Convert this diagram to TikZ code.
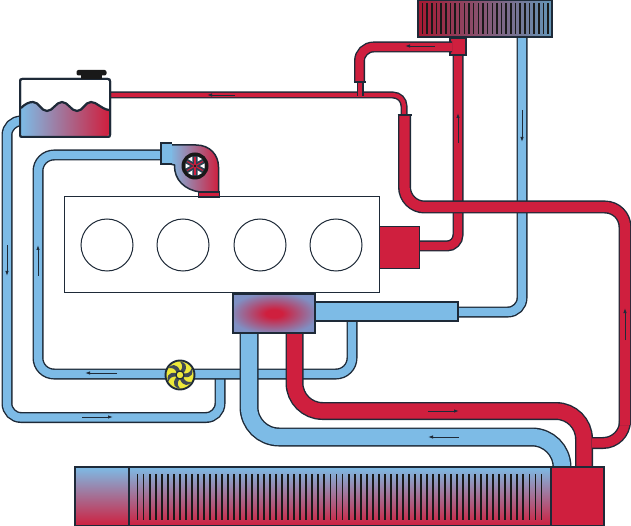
\documentclass[tikz,border=0pt]{standalone}
\usepackage{tikz}
\usetikzlibrary{arrows.meta,positioning,calc}
\definecolor{hotred}{HTML}{CF1F3E}
\definecolor{coolblue}{HTML}{7DBBE6}
\definecolor{pipeline}{HTML}{1E2A38}
\definecolor{fanyellow}{HTML}{EDE93A}
\definecolor{pumpblue}{HTML}{7F90C4}
\pgfdeclareradialshading{hotspot}{\pgfpoint{0bp}{0bp}}{color(0bp)=(hotred); color(5bp)=(hotred); color(27bp)=(pumpblue); color(100bp)=(pumpblue)}
\newcommand{\pipe}[4]{%
\draw[rounded corners=#3pt, line width=#2pt, color=pipeline] #4;
\draw[rounded corners=#3pt, line width=#2pt-2.8pt, color=#1] #4;}
\tikzset{
  box/.style={draw=pipeline, line width=1.5pt, inner sep=0pt, outer sep=0pt},
  flow/.style={-{Latex[length=5pt,width=3.5pt]}, line width=0.9pt, color=pipeline},
  fin/.style={line width=1.9pt, color=black!90},
  pipecap/.style={line width=1.4pt, color=pipeline}
}
\begin{document}
\begin{tikzpicture}[x=1pt, y=-1pt]
\useasboundingbox (0,0) rectangle (631,526);
% cold side
\pipe{coolblue}{11}{14}{(20,121) -- (7,121) -- (7,417.5) -- (220,417.5) -- (220,378)}
\pipe{coolblue}{11}{16}{(352,320) -- (352,374) -- (38,374) -- (38,155) -- (163,155)}
\pipe{coolblue}{11}{14}{(522,36) -- (522,312) -- (457,312)}
\node[box, fill=coolblue, minimum width=144pt, minimum height=19pt] (bypass) at (386,311.5) {};
\pipe{coolblue}{19}{30}{(249,332) -- (249,437) -- (562,437) -- (562,468)}
% hot side
\pipe{hotred}{18}{28}{(294.5,332) -- (294.5,411) -- (584,411) -- (584,468)}
\pipe{hotred}{12}{22}{(625,420) -- (625,443) -- (592,443)}
\pipe{hotred}{11}{11}{(458,54) -- (458,246) -- (418,246)}
\node[box, fill=hotred, minimum width=16pt, minimum height=17pt] (tee) at (458,46.5) {};
\pipe{hotred}{7}{11}{(109,95) -- (404,95) -- (404,116)}
\pipe{hotred}{7}{1}{(360,96) -- (360,81)}
\pipe{hotred}{11}{14}{(359.5,82) -- (359.5,47) -- (452,47)}
\draw[pipecap] (353.5,82) -- (365.5,82);
\pipe{hotred}{13}{20}{(404.5,115) -- (404.5,207) -- (625,207) -- (625,425)}
\draw[pipecap] (397.5,115) -- (411.5,115);
% engine
\node[draw=pipeline, line width=1pt, fill=white, minimum width=315pt, minimum height=96pt, inner sep=0pt] (engine) at (221.5,245) {};
\foreach \cx/\cname in {107/a,183/b,260/c,336/d}
  \node[circle, draw=pipeline, line width=1pt, minimum size=52pt, inner sep=0pt] (cyl\cname) at (\cx,245) {};
\node[draw=pipeline, line width=0.5pt, inner sep=0pt, fill=hotred, minimum width=40pt, minimum height=42pt] (block) at (399,247) {};
\node[box, shading=hotspot, minimum width=82pt, minimum height=39pt] (pump) at (274,313.5) {};
% expansion tank
\node[box, line width=2pt, rounded corners=2pt, fill=white, minimum width=90pt, minimum height=58pt] (tank) at (65,108) {};
\shade[left color=coolblue, right color=hotred, rounded corners=1.5pt] (21,108) .. controls (25,104) and (29,102) .. (33,102) .. controls (39,102) and (41,111) .. (47,111) .. controls (53,111) and (56,102) .. (62,102) .. controls (68,102) and (71,111) .. (77,111) .. controls (83,111) and (85,102) .. (91,102) .. controls (97,102) and (101,109) .. (109,110) -- (109,136) -- (21,136) -- cycle;
\draw[line width=2.2pt, color=pipeline] (21,108) .. controls (25,104) and (29,102) .. (33,102) .. controls (39,102) and (41,111) .. (47,111) .. controls (53,111) and (56,102) .. (62,102) .. controls (68,102) and (71,111) .. (77,111) .. controls (83,111) and (85,102) .. (91,102) .. controls (97,102) and (101,109) .. (109,110);
\node[box, line width=2pt, rounded corners=2pt, minimum width=90pt, minimum height=58pt] (tankedge) at (65,108) {};
\fill[black!90, rounded corners=2pt] (76.5,70) rectangle (106.5,75.5);
\fill[black!90] (81,74) rectangle (102,79);
% turbo
\draw[line width=1.5pt, draw=pipeline, left color=coolblue, middle color=hotred!65!coolblue, right color=hotred] (170,145) -- (196,145) .. controls (210,145) and (218.5,155) .. (218.5,167) -- (218.5,192) -- (200,192) .. controls (185,190) and (174,180) .. (174.5,165) -- (170,164) -- cycle;
\fill[coolblue] (162,144.5) rectangle (172,163.5);
\draw[line width=1.5pt, draw=pipeline] (172,143) -- (161,143) -- (161,164) -- (172,164);
\draw[line width=1.5pt, draw=pipeline, fill=hotred] (198.5,192) rectangle (219.5,197);
\node[circle, fill=black!90, minimum size=27pt, inner sep=0pt] (wheel) at (195,166) {};
\node[circle, fill=pipeline!85!coolblue, minimum size=20pt, inner sep=0pt] (wheelin) at (195,166) {};
\foreach \ang in {0,60,...,300}{
  \draw[hotred, line width=1.1pt] (195,166) -- ++(\ang+30:9pt);
  \fill[white, shift={(195,166)}, rotate=\ang] (5,0) -- (9.5,-2.5) -- (9.5,2.5) -- cycle;
}
\fill[black!90] (195,166) circle (1.4pt);
% fan
\node[circle, draw=pipeline, line width=1.9pt, fill=fanyellow, minimum size=29pt, inner sep=0pt] (fan) at (180,375) {};
\foreach \ang in {0,60,...,300}
  \fill[pipeline!85!white, shift={(180,375)}, rotate=\ang] (0,-3.5) .. controls (3,-7) and (3,-10) .. (0,-13.5) .. controls (5,-13) and (8.5,-9) .. (4,-2.5) -- cycle;
\node[circle, draw=pipeline, line width=1.2pt, fill=fanyellow, minimum size=8pt, inner sep=0pt] (hub) at (180,375) {};
% heater core
\node[box, left color=hotred!80!black, right color=coolblue!80!black, minimum width=134pt, minimum height=37pt] (heater) at (485,18.5) {};
\foreach \fx in {0,...,27}
  \draw[fin, line width=1.5pt] ({422.5+\fx*4.65},3) -- ({422.5+\fx*4.65},34);
% radiator
\node[box, top color=coolblue, bottom color=hotred, minimum width=54pt, minimum height=59pt] (tankleft) at (102,496.5) {};
\node[box, top color=coolblue, bottom color=hotred, minimum width=422pt, minimum height=59pt] (core) at (340,496.5) {};
\node[box, fill=hotred, minimum width=53pt, minimum height=59pt] (tankright) at (577.5,496.5) {};
\foreach \fx in {0,...,67}
  \draw[fin] ({137.5+\fx*6.03},474) -- ({137.5+\fx*6.03},520);
% flow marks
\draw[flow] (235,95) -- (207,95);
\draw[flow] (435,46) -- (405,46);
\draw[flow] (458,143) -- (458,113);
\draw[flow] (522,110) -- (522,142);
\draw[flow] (7,245) -- (7,276);
\draw[flow] (38,276) -- (38,245);
\draw[flow] (117,373) -- (85,373);
\draw[flow] (82,417) -- (113,417);
\draw[flow] (428,411) -- (459,411);
\draw[flow] (459,437) -- (428,437);
\draw[flow] (625,340) -- (625,308);
\end{tikzpicture}
\end{document}
